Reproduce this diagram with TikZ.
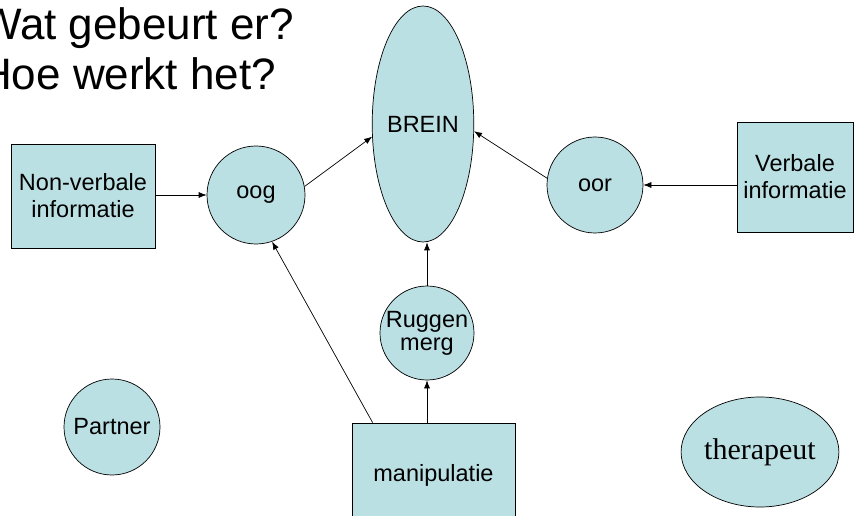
\documentclass[tikz,border=0pt]{standalone}
\usepackage{fontspec}
\setmainfont{Liberation Sans}
\newfontfamily\serifface{Liberation Serif}
\usetikzlibrary{shapes.geometric,arrows.meta}
\definecolor{lightteal}{RGB}{187,224,227}
\tikzset{
  shape fill/.style={fill=lightteal, draw=black, line width=0.7pt},
  roundnode/.style={shape fill, circle, inner sep=0pt, minimum size=#1pt,
    font=\fontsize{23.5}{26}\selectfont, align=center},
  boxnode/.style={shape fill, rectangle, inner sep=0pt, align=center,
    font=\fontsize{23.5}{27}\selectfont},
  link/.style={line width=0.7pt, -{Latex[length=8pt,width=6pt]}},
  headline/.style={font=\fontsize{44}{50}\selectfont, inner sep=0pt, anchor=base west}
}
\begin{document}
\begin{tikzpicture}[x=1pt,y=-1pt]
  \useasboundingbox (0,0) rectangle (855,516);

  % heading, running off the left edge of the page
  \node[headline] (title1) at (-20,40) {Wat gebeurt er?};
  \node[headline] (title2) at (-20,90) {Hoe werkt het?};

  % brain and senses
  \node[shape fill, ellipse, minimum width=95pt, minimum height=236pt,
        inner sep=0pt, font=\fontsize{23.5}{26}\selectfont] (brein) at (423,124) {BREIN};
  \node[roundnode=98] (oog) at (256,195) {oog};
  \node[roundnode=96] (oor) at (595,185) {oor};
  \node[roundnode=94] (rug) at (427,333) {Ruggen\\[-3pt]merg};
  \node[roundnode=96] (partner) at (112,427) {Partner};

  % information sources
  \node[boxnode, minimum width=144pt, minimum height=104pt] (nonverb) at (83,196)
       {Non-verbale\\informatie};
  \node[boxnode, minimum width=116pt, minimum height=110pt] (verb) at (795,177)
       {Verbale\\informatie};
  \node[boxnode, minimum width=163pt, minimum height=104pt] (manip) at (433.5,475)
       {manipulatie};

  % therapist
  \node[shape fill, ellipse, minimum width=136pt, minimum height=110pt, inner sep=0pt,
        font=\serifface\fontsize{30}{32}\selectfont] (therap) at (760,452) {therapeut};

  % connections
  \draw[link] (nonverb.east |- oog) -- (oog.west);
  \draw[link] (oog.10) -- (brein.194);
  \draw[link] (verb.west |- oor) -- (oor.east);
  \draw[link] (oor.172) -- (brein.352);
  \draw[link] (rug.north) -- (rug.north |- brein.south);
  \draw[link] (rug.south |- manip.north) -- (rug.south);
  \draw[link] ([xshift=21pt]manip.north west) -- (oog.289);
\end{tikzpicture}
\end{document}
